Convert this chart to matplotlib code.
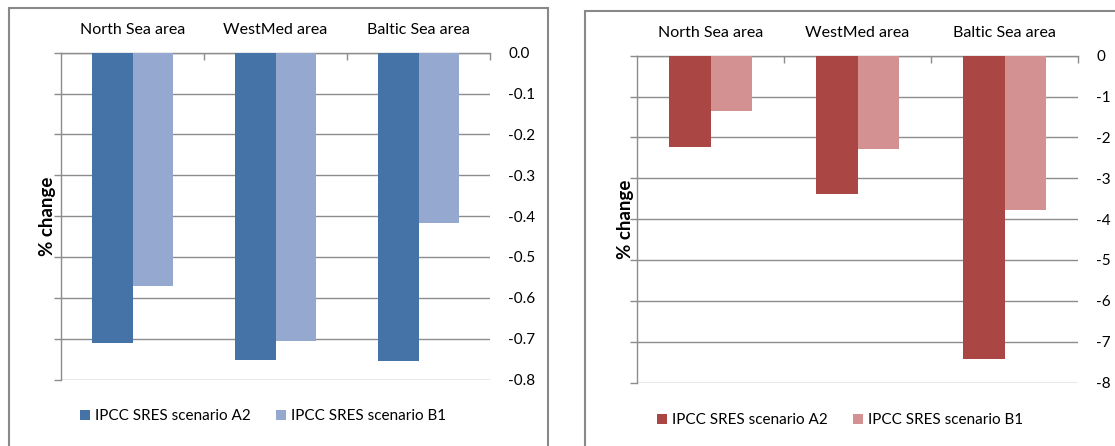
import numpy as np
import matplotlib.pyplot as plt
from matplotlib.patches import Patch, Rectangle
from matplotlib.ticker import FuncFormatter

plt.rcParams['font.family'] = ['Lato', 'DejaVu Sans']

# Areas and scenario results
areas = ['North Sea area', 'WestMed area', 'Baltic Sea area']
scenarios = ['IPCC SRES scenario A2', 'IPCC SRES scenario B1']

# left panel (small % changes)
left_a2 = [-0.710, -0.752, -0.755]
left_b1 = [-0.571, -0.706, -0.416]
# right panel (larger % changes)
right_a2 = [-2.23, -3.38, -7.42]
right_b1 = [-1.35, -2.29, -3.77]

left_ticks = [0.0, -0.1, -0.2, -0.3, -0.4, -0.5, -0.6, -0.7, -0.8]
right_ticks = [0, -1, -2, -3, -4, -5, -6, -7, -8]

W, H = 1115, 446
fig = plt.figure(figsize=(W / 100, H / 100), dpi=100)

grid_col = '#8c8c8c'
border_col = '#888888'


def px_box(x0, y0, x1, y1):
    # pixel box (top-left origin) -> figure fraction rect
    return [x0 / W, 1 - y1 / H, (x1 - x0) / W, (y1 - y0) / H]


def panel(rect, a2, b1, ticks, fmt, colors):
    ax = fig.add_axes(rect)
    x = np.arange(len(areas))
    w = 0.285
    ax.bar(x - w / 2, a2, w, color=colors[0], zorder=3)
    ax.bar(x + w / 2, b1, w, color=colors[1], zorder=3)
    ax.set_xlim(-0.5, len(areas) - 0.5)
    ax.set_ylim(min(ticks), max(ticks))
    ax.set_yticks(ticks)
    ax.yaxis.set_major_formatter(FuncFormatter(fmt))
    ax.yaxis.grid(True, color=grid_col, lw=1.0, zorder=0)
    ax.tick_params(axis='y', left=True, right=False, labelleft=False, labelright=True,
                   length=5, width=1.0, color=grid_col, pad=8, labelsize=11)
    for lab in ax.get_yticklabels():
        lab.set_horizontalalignment('left')
    # category labels on top
    ax.xaxis.tick_top()
    ax.set_xticks(x)
    ax.set_xticklabels(areas)
    ax.set_xticks(x + 0.5, minor=True)
    ax.tick_params(axis='x', which='major', length=0, pad=11, labelsize=11.5)
    ax.tick_params(axis='x', which='minor', direction='in', length=5, width=1.0,
                   color=grid_col, top=True, bottom=False)
    for s in ['right', 'bottom']:
        ax.spines[s].set_visible(False)
    ax.spines['left'].set_color(grid_col)
    ax.spines['top'].set_color(grid_col)
    ax.spines['left'].set_linewidth(1.0)
    ax.spines['top'].set_linewidth(1.0)
    return ax


def fmt_left(v, pos):
    s = '%.1f' % v
    return '0.0' if s == '-0.0' else s


def fmt_right(v, pos):
    return '%d' % round(v)


blues = ['#4572a7', '#95a9d0']
reds = ['#aa4643', '#d39291']

ax1 = panel(px_box(61, 52.7, 490, 379.5), left_a2, left_b1, left_ticks, fmt_left, blues)
ax2 = panel(px_box(637, 55.7, 1078, 382.5), right_a2, right_b1, right_ticks, fmt_right, reds)

# chart frames
fig.patches.append(Rectangle((9 / W, -0.05), (548 - 9) / W, 1.05 - 8 / H,
                             transform=fig.transFigure, fill=False,
                             edgecolor=border_col, lw=1.5))
fig.patches.append(Rectangle((585 / W, -0.05), (1130 - 585) / W, 1.05 - 11 / H,
                             transform=fig.transFigure, fill=False,
                             edgecolor=border_col, lw=1.5))

fig.text(47 / W, 1 - 216 / H, '% change', rotation=90, ha='center', va='center',
         fontsize=13.5, fontweight='bold')
fig.text(625 / W, 1 - 219 / H, '% change', rotation=90, ha='center', va='center',
         fontsize=13.5, fontweight='bold')

for cols, cx, cy in [(blues, 263, 416), (reds, 840, 420)]:
    handles = [Patch(facecolor=c, edgecolor='none') for c in cols]
    fig.legend(handles, scenarios, loc='center', bbox_to_anchor=(cx / W, 1 - cy / H),
               ncol=2, frameon=False, fontsize=11, handlelength=0.65,
               handleheight=0.65, handletextpad=0.3, columnspacing=1.7)

fig.savefig('out.png', dpi=100)
